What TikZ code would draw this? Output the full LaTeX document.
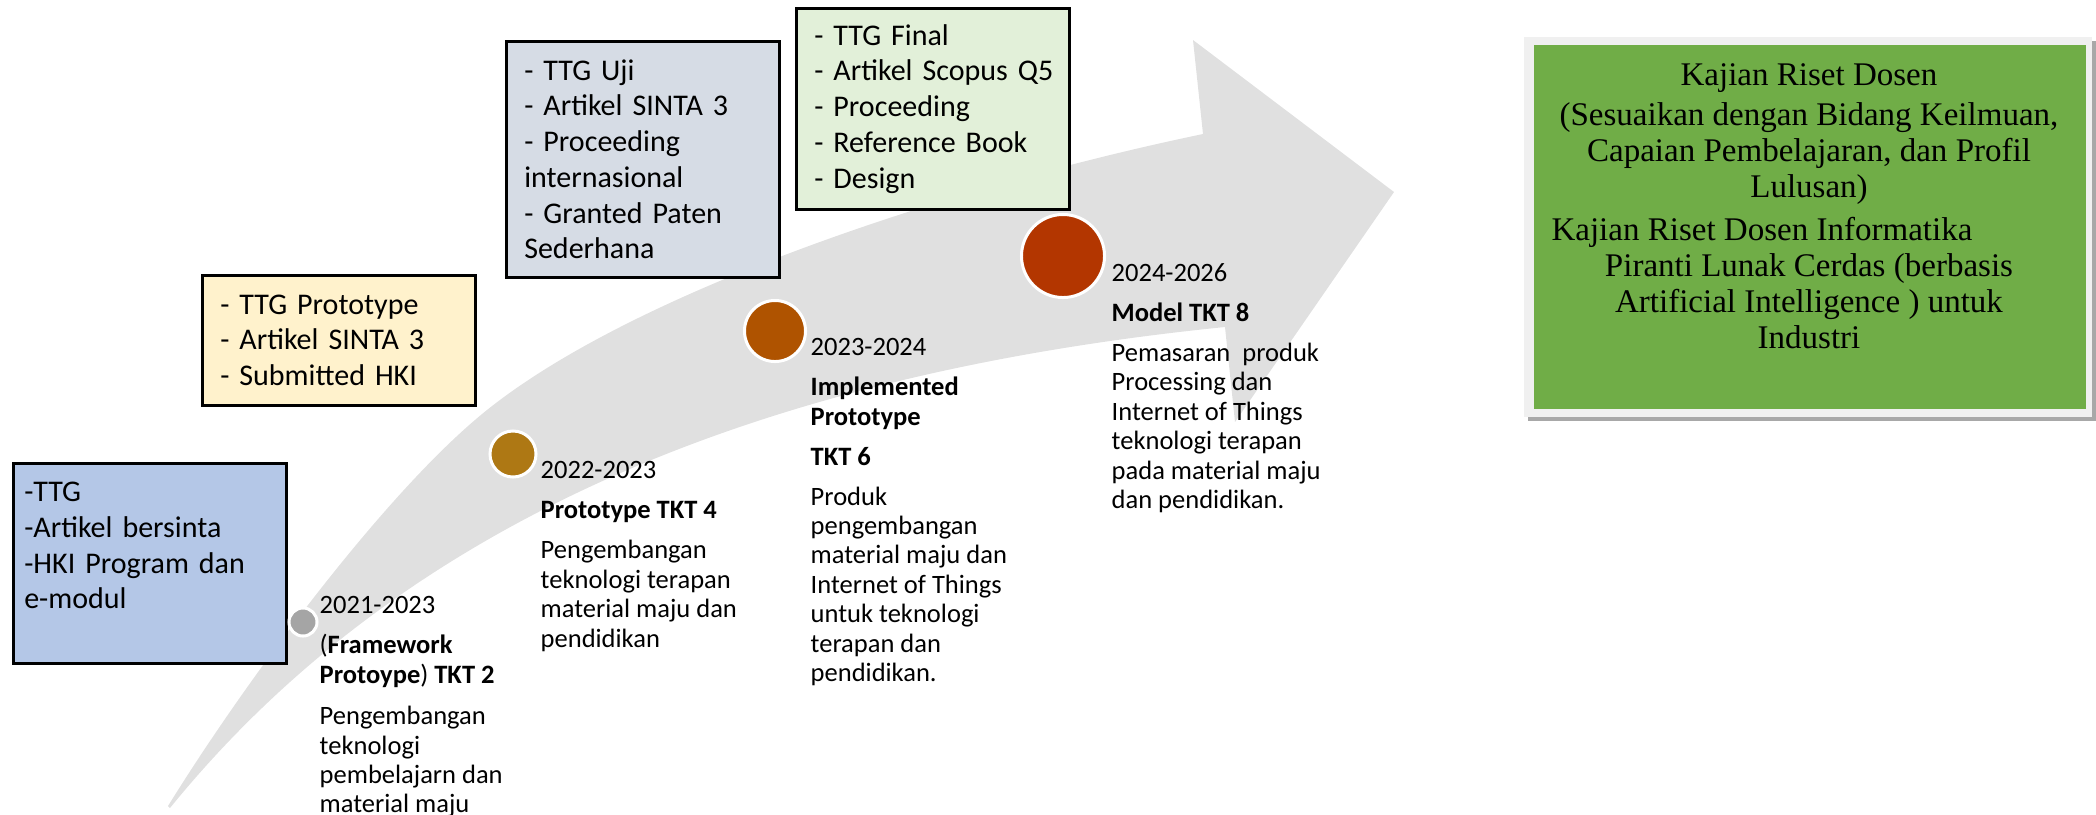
\documentclass[tikz,border=0pt]{standalone}
\usepackage{fontspec}
\setmainfont{Carlito}
\newfontfamily\kajianfont{Liberation Serif}

\definecolor{bandgray}{HTML}{E0E0E0}
\definecolor{boxblue}{HTML}{B4C7E7}
\definecolor{boxyellow}{HTML}{FFF2CC}
\definecolor{boxslate}{HTML}{D6DCE5}
\definecolor{boxmint}{HTML}{E2F0D9}
\definecolor{kajiangreen}{HTML}{70AD47}
\definecolor{kajianframe}{HTML}{F0F0F0}
\definecolor{kajianshadow}{HTML}{A8A8A8}
\definecolor{dotgray}{HTML}{A5A5A5}
\definecolor{dotgold}{HTML}{AE7814}
\definecolor{dotorange}{HTML}{AF5300}
\definecolor{dotred}{HTML}{B33600}

\begin{document}
\begin{tikzpicture}[x=0.01cm, y=-0.01cm,
    outbox/.style={draw=black, line width=0.025cm, anchor=north west, inner xsep=0.18cm, inner ysep=0,
        text width=2.37cm, minimum width=2.73cm, align=left, font=\fontsize{0.30cm}{0.357cm}\selectfont},
    dot/.style={circle, draw=white, line width=0.03cm, inner sep=0},
    stage/.style={anchor=north west, inner sep=0, align=left, font=\fontsize{0.265cm}{0.294cm}\selectfont}]
    \useasboundingbox (0,0) rectangle (2096,814);

    \fill[bandgray] (168,806) .. controls (248,677) and (387,490) .. (487,410)
        .. controls (637,290) and (953,186) .. (1203,134)
        -- (1193,40) -- (1394,192) -- (1235,422) -- (1225,327)
        .. controls (800,370) and (420,500) .. (170,808) -- cycle;

    \node[outbox, fill=boxblue, inner xsep=0.11cm, text width=2.51cm, minimum height=2cm] (out1) at (12,462) {-TTG\\-Artikel bersinta\\-HKI Program dan\\e-modul\\\mbox{}};
    \node[outbox, fill=boxyellow, minimum height=1.3cm] (out2) at (201,274) {- TTG Prototype\\- Artikel SINTA 3\\- Submitted HKI};
    \node[outbox, fill=boxslate, minimum height=2.36cm] (out3) at (505,40) {- TTG Uji\\- Artikel SINTA 3\\- Proceeding\\internasional\\- Granted Paten\\Sederhana};
    \node[outbox, fill=boxmint, minimum height=2.01cm] (out4) at (795,7) {- TTG Final\\\mbox{- Artikel Scopus Q5}\\- Proceeding\\- Reference Book\\- Design};

    \node[dot, fill=dotgray, minimum size=0.28cm] (c1) at (303,622) {};
    \node[dot, fill=dotgold, minimum size=0.46cm] (c2) at (513,454) {};
    \node[dot, fill=dotorange, minimum size=0.61cm] (c3) at (775,331) {};
    \node[dot, fill=dotred, minimum size=0.83cm] (c4) at (1063,256) {};

    \node[stage] (s1) at (319,596) {2021-2023\\[0.105cm](\textbf{Framework}\\\textbf{Protoype}) \textbf{TKT 2}\\[0.12cm]Pengembangan\\teknologi\\pembelajarn dan\\material maju};
    \node[stage] (s2) at (540,461) {2022-2023\\[0.105cm]\textbf{Prototype TKT 4}\\[0.105cm]Pengembangan\\teknologi terapan\\material maju dan\\pendidikan};
    \node[stage] (s3) at (810,338) {2023-2024\\[0.105cm]\textbf{Implemented}\\\textbf{Prototype}\\[0.105cm]\textbf{TKT 6}\\[0.105cm]Produk\\pengembangan\\material maju dan\\Internet of Things\\untuk teknologi\\terapan dan\\pendidikan.};
    \node[stage] (s4) at (1111,263) {2024-2026\\[0.105cm]\textbf{Model TKT 8}\\[0.105cm]Pemasaran~~produk\\Processing dan\\Internet of Things\\teknologi terapan\\pada material maju\\dan pendidikan.};

    \fill[kajianshadow] (1528,41) rectangle (2096,421);
    \fill[kajianframe] (1524,37) rectangle (2092,417);
    \node[fill=kajiangreen, anchor=north west, minimum width=5.52cm, minimum height=3.64cm, inner sep=0] (kajian) at (1533,44) {};
    \node[anchor=north, inner sep=0, align=center, font=\kajianfont\fontsize{0.33cm}{0.36cm}\selectfont] (kajianlbl) at (1809,63) {Kajian Riset Dosen\\[0.04cm](Sesuaikan dengan Bidang Keilmuan,\\Capaian Pembelajaran, dan Profil\\Lulusan)\\[0.07cm]Kajian Riset Dosen Informatika\hspace*{0.94cm}\mbox{}\\Piranti Lunak Cerdas (berbasis\\Artificial Intelligence ) untuk\\Industri};
\end{tikzpicture}
\end{document}
